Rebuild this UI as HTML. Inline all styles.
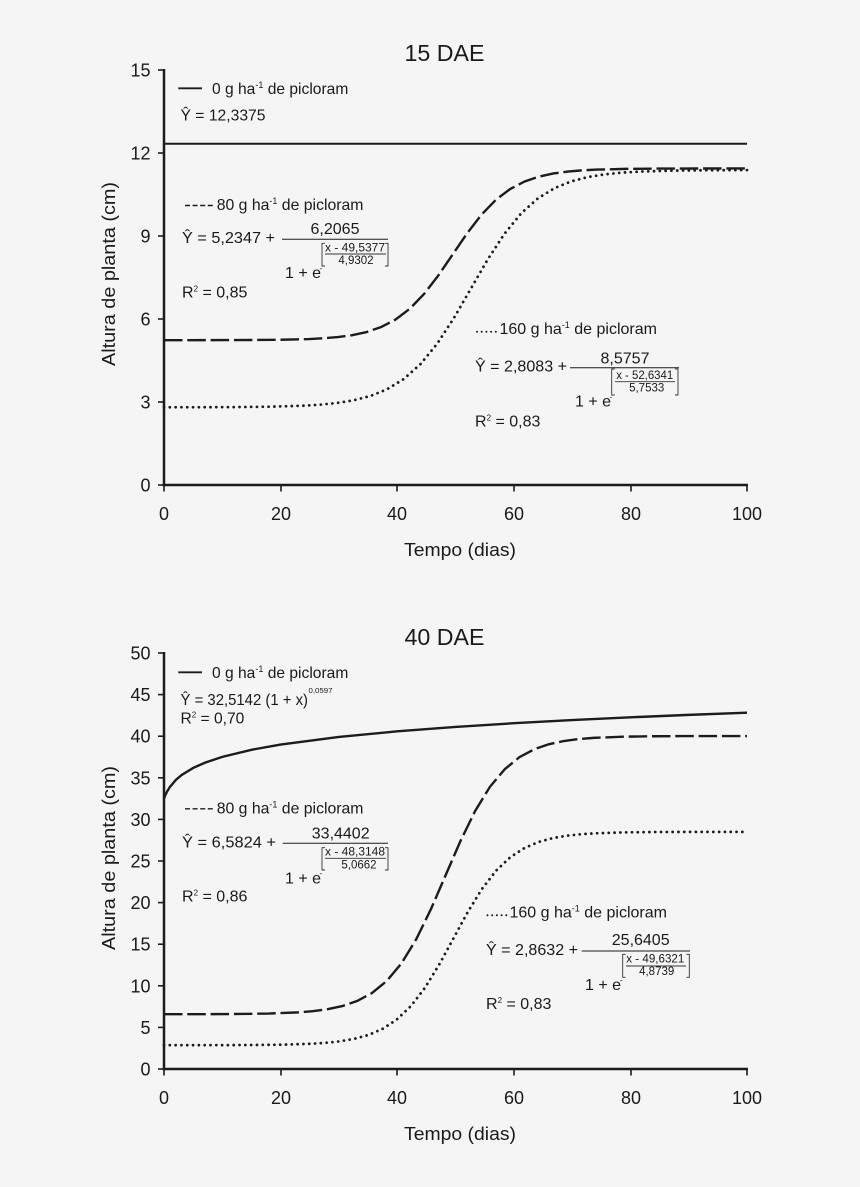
<!DOCTYPE html>
<html>
<head>
<meta charset="utf-8">
<style>
html,body{margin:0;padding:0;background:#f5f5f5;}
svg{display:block;}
text{font-family:"Liberation Sans",Arial,sans-serif;fill:#1a1a1a;}
</style>
</head>
<body>
<svg width="860" height="1187" viewBox="0 0 860 1187" xmlns="http://www.w3.org/2000/svg">
<rect width="860" height="1187" fill="#f5f5f5"/>

<!-- ================= CHART 1 ================= -->
<text x="444.5" y="61" font-size="23" text-anchor="middle" textLength="80" lengthAdjust="spacingAndGlyphs">15 DAE</text>

<g stroke="#1c1c1c" fill="none">
<line x1="164" y1="69" x2="164" y2="486.2" stroke-width="2.5"/>
<line x1="162.8" y1="485" x2="748" y2="485" stroke-width="2.5"/>
<g stroke-width="1.6">
<line x1="158" y1="70" x2="164" y2="70"/>
<line x1="158" y1="153" x2="164" y2="153"/>
<line x1="158" y1="236" x2="164" y2="236"/>
<line x1="158" y1="319" x2="164" y2="319"/>
<line x1="158" y1="402" x2="164" y2="402"/>
<line x1="158" y1="485" x2="164" y2="485"/>
<line x1="164" y1="485" x2="164" y2="491.5"/>
<line x1="281" y1="485" x2="281" y2="491.5"/>
<line x1="397" y1="485" x2="397" y2="491.5"/>
<line x1="514" y1="485" x2="514" y2="491.5"/>
<line x1="631" y1="485" x2="631" y2="491.5"/>
<line x1="747" y1="485" x2="747" y2="491.5"/>
</g>
</g>
<g font-size="18" text-anchor="end">
<text x="150.5" y="76.5">15</text>
<text x="150.5" y="159.5">12</text>
<text x="150.5" y="242.5">9</text>
<text x="150.5" y="325.5">6</text>
<text x="150.5" y="408.5">3</text>
<text x="150.5" y="491.5">0</text>
</g>
<g font-size="18" text-anchor="middle">
<text x="164" y="520">0</text>
<text x="281" y="520">20</text>
<text x="397" y="520">40</text>
<text x="514" y="520">60</text>
<text x="631" y="520">80</text>
<text x="747" y="520">100</text>
</g>
<text x="460" y="556" font-size="18" text-anchor="middle" textLength="112" lengthAdjust="spacingAndGlyphs">Tempo (dias)</text>
<text transform="translate(115,274) rotate(-90)" font-size="18.5" text-anchor="middle" textLength="184" lengthAdjust="spacingAndGlyphs">Altura de planta (cm)</text>

<line x1="164" y1="143.7" x2="747" y2="143.7" stroke="#1c1c1c" stroke-width="2"/>
<polyline fill="none" stroke="#1c1c1c" stroke-width="2.4" stroke-dasharray="18.5 4.8"
points="164,340.17 222.86,340.11 251.60,340.01 280.34,339.75 309.09,339.02 323.46,338.28 337.83,337.08 352.20,335.14 366.57,332.03 380.94,327.14 395.31,319.70 409.69,308.85 424.06,293.99 438.43,275.34 452.80,254.31 467.17,233.29 481.54,214.64 495.91,199.78 510.29,188.93 524.66,181.49 539.03,176.60 553.40,173.49 567.77,171.55 582.14,170.35 596.52,169.61 625.26,168.88 654.00,168.62 682.75,168.52 747,168.46"/>
<polyline fill="none" stroke="#1c1c1c" stroke-width="2.8" stroke-linecap="round" stroke-dasharray="0.01 5.8"
points="164,407.27 202.52,407.22 236.07,407.08 269.61,406.71 303.15,405.71 319.92,404.69 336.69,403.03 353.46,400.35 370.23,396.05 387.01,389.30 403.78,379.02 420.55,364.02 437.32,343.49 454.09,317.73 470.86,288.67 487.63,259.62 504.40,233.85 521.17,213.32 537.94,198.32 554.72,188.04 571.49,181.29 588.26,177.00 605.03,174.31 621.80,172.65 638.57,171.63 672.11,170.63 705.65,170.26 747,170.10"/>

<line x1="178.3" y1="88.3" x2="202" y2="88.3" stroke="#1c1c1c" stroke-width="1.8"/>
<text x="212" y="94" font-size="15.6">0 g ha<tspan dy="-6" font-size="9">-1</tspan><tspan dy="6"> de picloram</tspan></text>
<text x="180.5" y="120.5" font-size="15.6" textLength="85" lengthAdjust="spacingAndGlyphs">Ŷ = 12,3375</text>

<line x1="185" y1="205.5" x2="213" y2="205.5" stroke="#1c1c1c" stroke-width="1.4" stroke-dasharray="5 2.6"/>
<text x="216.7" y="210" font-size="15.8">80 g ha<tspan dy="-6" font-size="9">-1</tspan><tspan dy="6"> de picloram</tspan></text>
<text x="182" y="243" font-size="16" textLength="93" lengthAdjust="spacingAndGlyphs">Ŷ = 5,2347 +</text>
<line x1="282" y1="239.3" x2="388" y2="239.3" stroke="#1c1c1c" stroke-width="1"/>
<text x="335" y="234" font-size="16" text-anchor="middle">6,2065</text>
<g stroke="#333" stroke-width="0.9" fill="none">
<polyline points="325,243.3 322,243.3 322,266 325,266"/>
<polyline points="385,243.3 388,243.3 388,266 385,266"/>
<line x1="325" y1="254" x2="386" y2="254"/>
</g>
<text x="355" y="251.5" font-size="11.5" text-anchor="middle" textLength="60" lengthAdjust="spacingAndGlyphs">x - 49,5377</text>
<text x="356" y="264" font-size="11.5" text-anchor="middle">4,9302</text>
<text x="285" y="278" font-size="16">1 + e</text>
<text x="319.5" y="271" font-size="8">-</text>
<text x="182" y="297.7" font-size="16">R<tspan dy="-6" font-size="8">2</tspan><tspan dy="6"> = 0,85</tspan></text>

<g fill="#1c1c1c">
<circle cx="477" cy="331.8" r="1"/><circle cx="481.7" cy="331.8" r="1"/><circle cx="486.4" cy="331.8" r="1"/><circle cx="491.1" cy="331.8" r="1"/><circle cx="495.8" cy="331.8" r="1"/>
</g>
<text x="499.5" y="334" font-size="16">160 g ha<tspan dy="-6" font-size="9">-1</tspan><tspan dy="6"> de picloram</tspan></text>
<text x="475" y="371.7" font-size="16" textLength="92" lengthAdjust="spacingAndGlyphs">Ŷ = 2,8083 +</text>
<line x1="570" y1="367.7" x2="679" y2="367.7" stroke="#1c1c1c" stroke-width="1"/>
<text x="625" y="363.3" font-size="16" text-anchor="middle">8,5757</text>
<g stroke="#333" stroke-width="0.9" fill="none">
<polyline points="614.7,369 611.7,369 611.7,395 614.7,395"/>
<polyline points="675,369 678,369 678,395 675,395"/>
<line x1="615" y1="381.7" x2="675" y2="381.7"/>
</g>
<text x="644.7" y="379" font-size="11.5" text-anchor="middle" textLength="57" lengthAdjust="spacingAndGlyphs">x - 52,6341</text>
<text x="646.7" y="391.7" font-size="11.5" text-anchor="middle">5,7533</text>
<text x="575" y="406.7" font-size="16">1 + e</text>
<text x="609.5" y="399.5" font-size="8">-</text>
<text x="475" y="426.7" font-size="16">R<tspan dy="-6" font-size="8">2</tspan><tspan dy="6"> = 0,83</tspan></text>

<!-- ================= CHART 2 ================= -->
<text x="444.5" y="645" font-size="23" text-anchor="middle" textLength="80" lengthAdjust="spacingAndGlyphs">40 DAE</text>

<g stroke="#1c1c1c" fill="none">
<line x1="164" y1="652" x2="164" y2="1070.2" stroke-width="2.5"/>
<line x1="162.8" y1="1069" x2="748" y2="1069" stroke-width="2.5"/>
<g stroke-width="1.6">
<line x1="158" y1="653" x2="164" y2="653"/>
<line x1="158" y1="694.6" x2="164" y2="694.6"/>
<line x1="158" y1="736.2" x2="164" y2="736.2"/>
<line x1="158" y1="777.8" x2="164" y2="777.8"/>
<line x1="158" y1="819.4" x2="164" y2="819.4"/>
<line x1="158" y1="861" x2="164" y2="861"/>
<line x1="158" y1="902.6" x2="164" y2="902.6"/>
<line x1="158" y1="944.2" x2="164" y2="944.2"/>
<line x1="158" y1="985.8" x2="164" y2="985.8"/>
<line x1="158" y1="1027.4" x2="164" y2="1027.4"/>
<line x1="158" y1="1069" x2="164" y2="1069"/>
<line x1="164" y1="1069" x2="164" y2="1075.5"/>
<line x1="281" y1="1069" x2="281" y2="1075.5"/>
<line x1="397" y1="1069" x2="397" y2="1075.5"/>
<line x1="514" y1="1069" x2="514" y2="1075.5"/>
<line x1="631" y1="1069" x2="631" y2="1075.5"/>
<line x1="747" y1="1069" x2="747" y2="1075.5"/>
</g>
</g>
<g font-size="18" text-anchor="end">
<text x="150.5" y="659.5">50</text>
<text x="150.5" y="701.1">45</text>
<text x="150.5" y="742.7">40</text>
<text x="150.5" y="784.3">35</text>
<text x="150.5" y="825.9">30</text>
<text x="150.5" y="867.5">25</text>
<text x="150.5" y="909.1">20</text>
<text x="150.5" y="950.7">15</text>
<text x="150.5" y="992.3">10</text>
<text x="150.5" y="1033.9">5</text>
<text x="150.5" y="1075.5">0</text>
</g>
<g font-size="18" text-anchor="middle">
<text x="164" y="1104">0</text>
<text x="281" y="1104">20</text>
<text x="397" y="1104">40</text>
<text x="514" y="1104">60</text>
<text x="631" y="1104">80</text>
<text x="747" y="1104">100</text>
</g>
<text x="460" y="1140" font-size="18" text-anchor="middle" textLength="112" lengthAdjust="spacingAndGlyphs">Tempo (dias)</text>
<text transform="translate(115,858) rotate(-90)" font-size="18.5" text-anchor="middle" textLength="184" lengthAdjust="spacingAndGlyphs">Altura de planta (cm)</text>

<polyline fill="none" stroke="#1c1c1c" stroke-width="2.4"
points="164,798.48 165.46,794.85 166.92,791.85 169.83,787.05 175.66,780.14 181.49,775.14 193.15,767.94 204.81,762.73 222.3,756.85 251.45,749.79 280.6,744.56 338.9,736.93 397.2,731.34 455.5,726.91 513.8,723.23 572.1,720.09 630.4,717.33 688.7,714.88 747,712.67"/>
<polyline fill="none" stroke="#1c1c1c" stroke-width="2.4" stroke-dasharray="18.5 4.8"
points="164,1014.21 209.39,1014.14 238.93,1013.98 268.46,1013.54 298.00,1012.37 312.77,1011.17 327.54,1009.23 342.30,1006.08 357.07,1001.04 371.84,993.13 386.61,981.07 401.38,963.48 416.14,939.40 430.91,909.19 445.68,875.12 460.45,841.05 475.22,810.84 489.98,786.77 504.75,769.18 519.52,757.12 534.29,749.21 549.06,744.17 563.82,741.01 578.59,739.07 593.36,737.87 622.90,736.70 652.43,736.26 681.97,736.10 747,736.02"/>
<polyline fill="none" stroke="#1c1c1c" stroke-width="2.8" stroke-linecap="round" stroke-dasharray="0.01 5.8"
points="164,1045.17 226.04,1045.11 254.45,1044.99 282.87,1044.65 311.28,1043.75 325.49,1042.84 339.70,1041.34 353.91,1038.93 368.12,1035.06 382.32,1029.00 396.53,1019.75 410.74,1006.26 424.95,987.81 439.15,964.64 453.36,938.52 467.57,912.39 481.78,889.22 495.98,870.77 510.19,857.28 524.40,848.03 538.61,841.97 552.81,838.10 567.02,835.69 581.23,834.19 595.44,833.28 623.85,832.38 652.27,832.04 680.68,831.92 747,831.85"/>

<line x1="178.3" y1="672.3" x2="202" y2="672.3" stroke="#1c1c1c" stroke-width="1.8"/>
<text x="212" y="678" font-size="15.6">0 g ha<tspan dy="-6" font-size="9">-1</tspan><tspan dy="6"> de picloram</tspan></text>
<text x="180.5" y="705" font-size="15.6" textLength="127.5" lengthAdjust="spacingAndGlyphs">Ŷ = 32,5142 (1 + x)</text>
<text x="308.5" y="693" font-size="7.5" textLength="24" lengthAdjust="spacingAndGlyphs">0,0597</text>
<text x="180.5" y="723.5" font-size="15.6">R<tspan dy="-6" font-size="8">2</tspan><tspan dy="6"> = 0,70</tspan></text>

<line x1="185" y1="808.8" x2="213" y2="808.8" stroke="#1c1c1c" stroke-width="1.4" stroke-dasharray="5 2.6"/>
<text x="216.7" y="813.3" font-size="15.8">80 g ha<tspan dy="-6" font-size="9">-1</tspan><tspan dy="6"> de picloram</tspan></text>
<text x="182" y="847.7" font-size="16" textLength="94" lengthAdjust="spacingAndGlyphs">Ŷ = 6,5824 +</text>
<line x1="282.7" y1="843.3" x2="388" y2="843.3" stroke="#1c1c1c" stroke-width="1"/>
<text x="340.7" y="838.3" font-size="16" text-anchor="middle">33,4402</text>
<g stroke="#333" stroke-width="0.9" fill="none">
<polyline points="325,847.7 322,847.7 322,870 325,870"/>
<polyline points="385,847.7 388,847.7 388,870 385,870"/>
<line x1="325" y1="858.3" x2="386" y2="858.3"/>
</g>
<text x="355" y="855.3" font-size="11.5" text-anchor="middle" textLength="60" lengthAdjust="spacingAndGlyphs">x - 48,3148</text>
<text x="359" y="868.3" font-size="11.5" text-anchor="middle">5,0662</text>
<text x="285" y="883.3" font-size="16">1 + e</text>
<text x="319.5" y="876" font-size="8">-</text>
<text x="182" y="901.7" font-size="16">R<tspan dy="-6" font-size="8">2</tspan><tspan dy="6"> = 0,86</tspan></text>

<g fill="#1c1c1c">
<circle cx="487.5" cy="915.3" r="1"/><circle cx="492.2" cy="915.3" r="1"/><circle cx="496.9" cy="915.3" r="1"/><circle cx="501.6" cy="915.3" r="1"/><circle cx="506.3" cy="915.3" r="1"/>
</g>
<text x="509.5" y="917.3" font-size="16">160 g ha<tspan dy="-6" font-size="9">-1</tspan><tspan dy="6"> de picloram</tspan></text>
<text x="486" y="955" font-size="16" textLength="92" lengthAdjust="spacingAndGlyphs">Ŷ = 2,8632 +</text>
<line x1="581.7" y1="951" x2="690" y2="951" stroke="#1c1c1c" stroke-width="1"/>
<text x="640.7" y="945" font-size="16" text-anchor="middle">25,6405</text>
<g stroke="#333" stroke-width="0.9" fill="none">
<polyline points="625.7,954.3 622.7,954.3 622.7,977.3 625.7,977.3"/>
<polyline points="686.3,954.3 689.3,954.3 689.3,977.3 686.3,977.3"/>
<line x1="626" y1="966" x2="686" y2="966"/>
</g>
<text x="655.3" y="962.7" font-size="11.5" text-anchor="middle" textLength="58" lengthAdjust="spacingAndGlyphs">x - 49,6321</text>
<text x="656.7" y="975" font-size="11.5" text-anchor="middle">4,8739</text>
<text x="585" y="990" font-size="16">1 + e</text>
<text x="620" y="982.5" font-size="8">-</text>
<text x="486" y="1009" font-size="16">R<tspan dy="-6" font-size="8">2</tspan><tspan dy="6"> = 0,83</tspan></text>
</svg>
</body>
</html>
